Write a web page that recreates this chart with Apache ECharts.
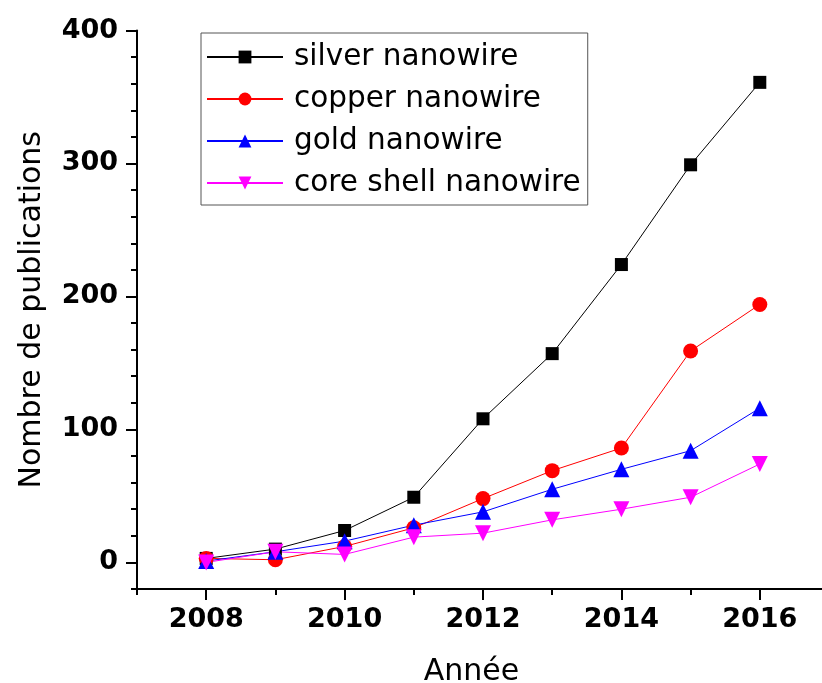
<!DOCTYPE html>
<html>
<head>
<meta charset="utf-8">
<script src="https://cdn.jsdelivr.net/npm/echarts@6/dist/echarts.min.js"></script>
<style>html,body{margin:0;padding:0;background:#fff;}#c{width:822px;height:683px;}</style>
</head>
<body>
<div id="c"></div>
<script>
var years = [2008, 2009, 2010, 2011, 2012, 2013, 2014, 2015, 2016];
var seriesNames = ['silver nanowire', 'copper nanowire', 'gold nanowire', 'core shell nanowire'];
var silver = [3, 10, 24, 49, 108, 157, 224, 299, 361];
var copper = [3, 2, 12, 26, 48, 69, 86, 159, 194];
var gold = [1, 8, 16, 28, 38, 55, 70, 84, 116];
var coreShell = [0, 8, 6, 19, 22, 32, 40, 49, 74];
var xTicks = [2008, 2010, 2012, 2014, 2016];
var yTicks = [0, 100, 200, 300, 400];

function pairs(vals) { return years.map(function (y, i) { return [y, vals[i]]; }); }

var FONT = 'DejaVu Sans';
var chart = echarts.init(document.getElementById('c'), null, { renderer: 'canvas' });

var xMin = 2007, xMax = 2017, yMin = -20, yMax = 400;
var gLeft = 137, gTop = 30.5, gW = 692, gH = 558.5;
var pxX = gW / (xMax - xMin), pxY = gH / (yMax - yMin);

var styles = [
  { color: '#000000', symbol: 'rect', size: 13 },
  { color: '#ff0000', symbol: 'circle', size: 15 },
  { color: '#0000ff', symbol: 'triangle', size: 16 },
  { color: '#ff00ff', symbol: 'path://M0,0 L10,0 L5,9 Z', size: 16 }
];
var datasets = [silver, copper, gold, coreShell];

var series = datasets.map(function (d, i) {
  return {
    name: seriesNames[i], type: 'line', xAxisIndex: 0, yAxisIndex: 0,
    data: pairs(d), symbol: styles[i].symbol, symbolSize: styles[i].size,
    showAllSymbol: true, clip: false, animation: false,
    lineStyle: { color: styles[i].color, width: 1 },
    itemStyle: { color: styles[i].color }
  };
});

chart.setOption({
  backgroundColor: '#ffffff',
  animation: false,
  grid: [
    { left: gLeft, top: gTop, width: gW, height: gH, containLabel: false, outerBoundsMode: 'none' },
    { left: gLeft + pxX * (xTicks[0] - xMin), top: gTop,
      width: pxX * (xTicks[xTicks.length - 1] - xTicks[0]),
      height: pxY * (yTicks[yTicks.length - 1] - yTicks[0]), containLabel: false, outerBoundsMode: 'none' }
  ],
  xAxis: [
    { type: 'value', gridIndex: 0, min: xMin, max: xMax, interval: 1,
      axisLine: { show: true, onZero: false, lineStyle: { color: '#000', width: 2 } },
      axisTick: { show: true, length: 6, lineStyle: { color: '#000', width: 2 } },
      axisLabel: { show: false }, splitLine: { show: false } },
    { type: 'value', gridIndex: 1, min: xTicks[0], max: xTicks[xTicks.length - 1], interval: 2,
      offset: pxY * (yTicks[0] - yMin),
      axisLine: { show: false, onZero: false },
      axisTick: { show: true, length: 11, lineStyle: { color: '#000', width: 2 } },
      axisLabel: { show: true, margin: 17, fontFamily: FONT, fontWeight: 'bold', fontSize: 27, color: '#000',
        formatter: function (v) { return String(v); } },
      splitLine: { show: false },
      name: 'Année', nameLocation: 'middle', nameGap: 68,
      nameTextStyle: { fontFamily: FONT, fontSize: 30, color: '#000', padding: [0, 23, 0, 0] } }
  ],
  yAxis: [
    { type: 'value', gridIndex: 0, min: yMin, max: yMax, interval: 20,
      axisLine: { show: true, onZero: false, lineStyle: { color: '#000', width: 2 } },
      axisTick: { show: true, length: 6, lineStyle: { color: '#000', width: 2 } },
      axisLabel: { show: false }, splitLine: { show: false },
      name: 'Nombre de publications', nameLocation: 'middle', nameGap: 90,
      nameTextStyle: { fontFamily: FONT, fontSize: 30, color: '#000' } },
    { type: 'value', gridIndex: 1, min: yTicks[0], max: yTicks[yTicks.length - 1], interval: 100,
      offset: pxX * (xTicks[0] - xMin),
      axisLine: { show: false, onZero: false },
      axisTick: { show: true, length: 11, lineStyle: { color: '#000', width: 2 } },
      axisLabel: { show: true, margin: 19, fontFamily: FONT, fontWeight: 'bold', fontSize: 27, color: '#000' },
      splitLine: { show: false } }
  ],
  legend: {
    show: true, orient: 'vertical', left: 201, top: 33,
    data: seriesNames,
    borderColor: '#555', borderWidth: 1, backgroundColor: '#fff',
    padding: [9, 7, 7, 5],
    itemWidth: 76, itemHeight: 16, itemGap: 12,
    textStyle: { fontFamily: FONT, fontSize: 29.5, color: '#000', padding: [0, 0, 0, 6] }
  },
  series: series
});
</script>
</body>
</html>
